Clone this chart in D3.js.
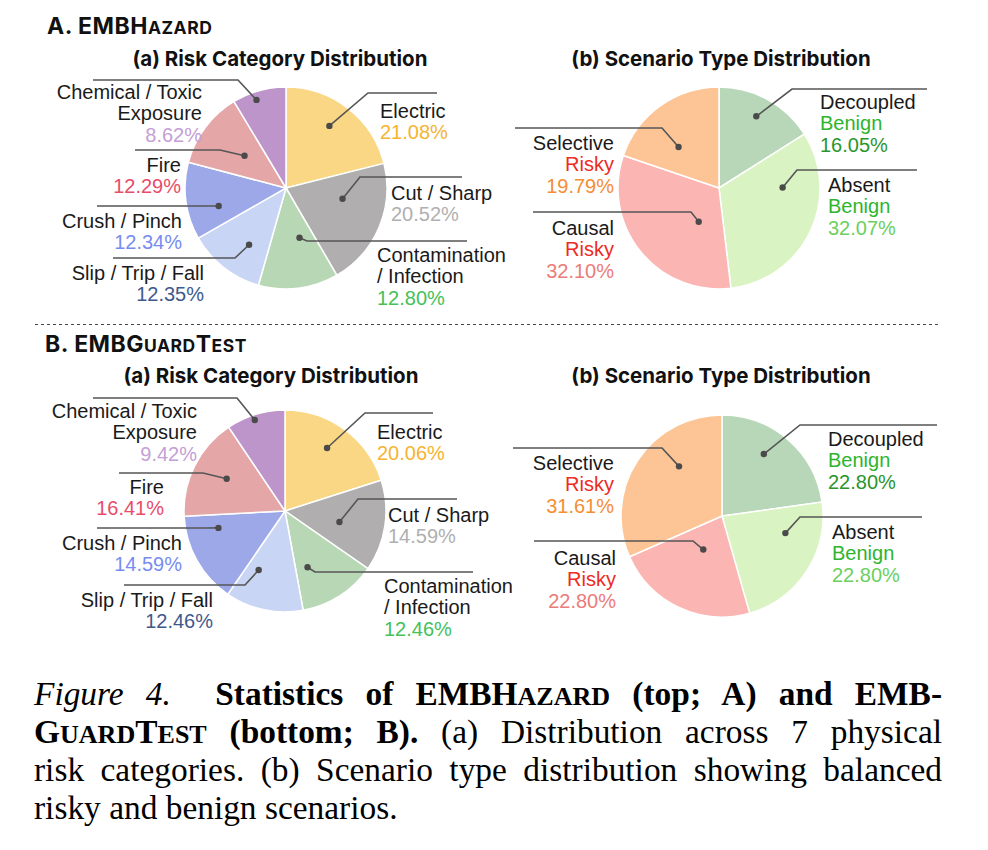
<!DOCTYPE html>
<html lang="en">
<head>
<meta charset="UTF-8">
<title>Figure 4</title>
<script src="https://cdnjs.cloudflare.com/ajax/libs/d3/7.8.5/d3.min.js"></script>
<style>
    body { margin: 0; background: #fff; }
    #wrapper { position: relative; width: 988px; height: 850px; }
    #caption {
        position: absolute;
        left: 34px;
        top: 674.5px;
        width: 908px;
        font-family: "Liberation Serif", "Times New Roman", serif;
        font-size: 33.4px;
        line-height: 38px;
        color: #000;
    }
    #caption .ln { text-align: justify; text-align-last: justify; white-space: nowrap; height: 38px; }
    #caption .last { text-align: left; text-align-last: left; }
    .sc { font-size: 0.78em; }
</style>
</head>
<body>
<div id="wrapper"></div>
<script>
// data
const riskCategories = ["Electric", "Cut / Sharp", "Contamination\n/ Infection", "Slip / Trip / Fall",
    "Crush / Pinch", "Fire", "Chemical / Toxic\nExposure"];
const riskShareA = [21.08, 20.52, 12.80, 12.35, 12.34, 12.29, 8.62];
const riskShareB = [20.06, 14.59, 12.46, 12.46, 14.59, 16.41, 9.42];

const scenarioTypes = ["Decoupled", "Absent", "Causal", "Selective"];
const scenarioGroups = ["Benign", "Benign", "Risky", "Risky"];
const scenarioShareA = [16.05, 32.07, 32.10, 19.79];
const scenarioShareB = [22.80, 22.80, 22.80, 31.61];

// colours
const riskFill = ["#fad784", "#b0aeae", "#b8d8b5", "#c9d5f5", "#9da8e8", "#e5a6a8", "#bd95cb"];
const riskPct = ["#f5b431", "#b0b0b0", "#45c15a", "#3e5a8c", "#778cf0", "#e84c6a", "#c4a0d6"];
const scenFill = ["#b8d7b8", "#d9f3c2", "#fbb5b3", "#fdc596"];
const scenGroupCol = ["#2db52d", "#2db52d", "#ee2a22", "#ee2a22"];
const scenPct = ["#2a962a", "#6ccf5e", "#ec7c79", "#f58d35"];

// label layout relative to the pie centre: dot [radius frac, angle nudge deg], elbow, end x, text pos, anchor
const layoutRiskA = [
    {dot: [0.75, -3], elbow: [82, -95], end: 151, text: [94, -70], a: "start"},
    {dot: [0.57, -12], elbow: [74, -11], end: 176, text: [105, 12], a: "start"},
    {dot: [0.51, -8], elbow: [21, 53], end: 181, text: [91, 74], a: "start"},
    {dot: [0.67, -5], elbow: [-51, 70], end: -173, text: [-82, 92], a: "end"},
    {dot: [0.69, -7.5], elbow: [-78, 18], end: -189, text: [-104, 40], a: "end"},
    {dot: [0.52, 1], elbow: [-66, -38], end: -151, text: [-105, -16], a: "end"},
    {dot: [0.92, -3], elbow: [-48, -108], end: -193, text: [-84, -89], a: "end"}
];
const layoutRiskB = [
    {dot: [0.75, -2.4], elbow: [80, -98], end: 148, text: [92, -72], a: "start"},
    {dot: [0.55, 3], elbow: [73, -12], end: 172, text: [103, 11], a: "start"},
    {dot: [0.6, 11], elbow: [30, 61], end: 188, text: [99, 82], a: "start"},
    {dot: [0.64, 12], elbow: [-40, 74], end: -161, text: [-72, 96], a: "end"},
    {dot: [0.68, 15], elbow: [-80, 17], end: -188, text: [-103, 39], a: "end"},
    {dot: [0.66, 2.4], elbow: [-82, -38], end: -166, text: [-121, -17], a: "end"},
    {dot: [0.95, -1.4], elbow: [-48, -113], end: -192, text: [-88, -93], a: "end"}
];
const layoutScenA = [
    {dot: [0.8, -1.4], elbow: [73, -99], end: 208, text: [101, -79], a: "start"},
    {dot: [0.63, -26], elbow: [78, -18], end: 198, text: [109, 4], a: "start"},
    {dot: [0.39, -20], elbow: [-28, 24], end: -186, text: [-105, 47], a: "end"},
    {dot: [0.57, -9], elbow: [-57, -60], end: -204, text: [-105, -38], a: "end"}
];
const layoutScenB = [
    {dot: [0.74, -7], elbow: [78, -91], end: 215, text: [106, -70], a: "start"},
    {dot: [0.65, -18], elbow: [78, 1], end: 200, text: [110, 23], a: "start"},
    {dot: [0.38, 4], elbow: [-29, 25], end: -188, text: [-106, 49], a: "end"},
    {dot: [0.65, 16], elbow: [-60, -68], end: -209, text: [-108, -46], a: "end"}
];

const width = 988, height = 850;
const radius = 101;
const lineH = 21.3;
const fmt = d3.format(".2f");
const labelFont = "'Liberation Sans', Arial, sans-serif";
const headFont = "Inter, 'Noto Sans', sans-serif";

const svg = d3.select("#wrapper").append("svg")
    .attr("width", width).attr("height", height)
    .style("position", "absolute").style("left", 0).style("top", 0);

function drawPie(cx, cy, values, fills, labelLines, layout) {
    const g = svg.append("g").attr("transform", `translate(${cx},${cy})`);
    const pie = d3.pie().sort(null).value(d => d)(values);
    const arc = d3.arc().innerRadius(0).outerRadius(radius);

    g.selectAll("path.slice").data(pie).join("path")
        .attr("class", "slice")
        .attr("d", arc)
        .attr("fill", (d, i) => fills[i])
        .attr("stroke", "#fff")
        .attr("stroke-width", 1.5);

    pie.forEach((d, i) => {
        const L = layout[i];
        const ang = (d.startAngle + d.endAngle) / 2 + L.dot[1] * Math.PI / 180;
        const px = Math.sin(ang) * L.dot[0] * radius;
        const py = -Math.cos(ang) * L.dot[0] * radius;
        g.append("polyline")
            .attr("points", [[px, py], L.elbow, [L.end, L.elbow[1]]].map(p => p.join(",")).join(" "))
            .attr("fill", "none")
            .attr("stroke", "#555")
            .attr("stroke-width", 1.6);
        g.append("circle").attr("cx", px).attr("cy", py).attr("r", 3.2).attr("fill", "#4a4a4a");

        const t = g.append("text")
            .attr("x", L.text[0]).attr("y", L.text[1])
            .attr("text-anchor", L.a)
            .style("font-family", labelFont)
            .style("font-size", "20px");
        labelLines(i).forEach((ln, k) => {
            t.append("tspan")
                .attr("x", L.text[0])
                .attr("dy", k === 0 ? 0 : lineH)
                .attr("fill", ln.color)
                .text(ln.text);
        });
    });
}

function riskLines(values) {
    return i => riskCategories[i].split("\n").map(s => ({text: s, color: "#1a1a1a"}))
        .concat([{text: fmt(values[i]) + "%", color: riskPct[i]}]);
}
function scenLines(values) {
    return i => [
        {text: scenarioTypes[i], color: "#1a1a1a"},
        {text: scenarioGroups[i], color: scenGroupCol[i]},
        {text: fmt(values[i]) + "%", color: scenPct[i]}
    ];
}

// small caps done by hand: [text, isSmall]
function heading(x, y, parts) {
    const t = svg.append("text").attr("x", x).attr("y", y).attr("fill", "#111")
        .style("font-family", headFont).style("font-weight", 700)
        .style("letter-spacing", "0.5px");
    parts.forEach(p => t.append("tspan")
        .style("font-size", p[1] ? "17.5px" : "23px")
        .text(p[1] ? p[0].toUpperCase() : p[0]));
}
function title(x, y, s) {
    svg.append("text").attr("x", x).attr("y", y).attr("text-anchor", "middle")
        .style("font-family", headFont).style("font-weight", 700).style("font-size", "20.5px")
        .attr("fill", "#111").text(s);
}

heading(47, 34, [["A. EMBH", false], ["azard", true]]);
title(280, 66, "(a) Risk Category Distribution");
title(721, 66, "(b) Scenario Type Distribution");
drawPie(286, 188, riskShareA, riskFill, riskLines(riskShareA), layoutRiskA);
drawPie(719, 188, scenarioShareA, scenFill, scenLines(scenarioShareA), layoutScenA);

svg.append("line").attr("x1", 35).attr("x2", 940).attr("y1", 324.5).attr("y2", 324.5)
    .attr("stroke", "#444").attr("stroke-width", 1).attr("stroke-dasharray", "3,3");

heading(45, 352, [["B. EMBG", false], ["uard", true], ["T", false], ["est", true]]);
title(271, 383, "(a) Risk Category Distribution");
title(721, 383, "(b) Scenario Type Distribution");
drawPie(285, 511, riskShareB, riskFill, riskLines(riskShareB), layoutRiskB);
drawPie(722, 516, scenarioShareB, scenFill, scenLines(scenarioShareB), layoutScenB);

// caption
const cap = d3.select("#wrapper").append("div").attr("id", "caption");
cap.append("div").attr("class", "ln")
    .html('<i>Figure 4.</i>&nbsp; <b>Statistics of EMBH<span class="sc">AZARD</span> (top; A) and EMB-</b>');
cap.append("div").attr("class", "ln")
    .html('<b>G<span class="sc">UARD</span>T<span class="sc">EST</span> (bottom; B).</b> (a) Distribution across 7 physical');
cap.append("div").attr("class", "ln")
    .text("risk categories. (b) Scenario type distribution showing balanced");
cap.append("div").attr("class", "ln last")
    .text("risky and benign scenarios.");
</script>
</body>
</html>
